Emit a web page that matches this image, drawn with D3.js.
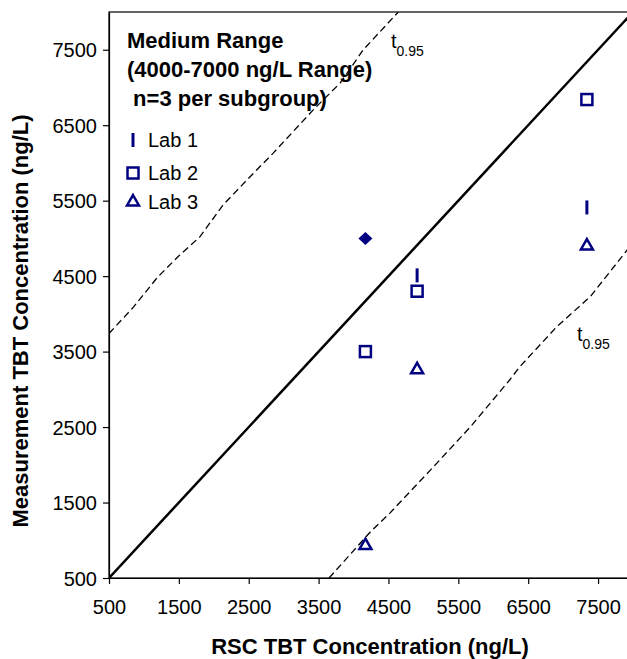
<!DOCTYPE html>
<html>
<head>
<meta charset="utf-8">
<script src="https://cdn.jsdelivr.net/npm/d3@7"></script>
<style>
  html, body { margin: 0; padding: 0; background: #fff; }
  svg { display: block; font-family: "Liberation Sans", Arial, sans-serif; }
</style>
</head>
<body>
<svg id="chart" width="627" height="659"></svg>
<script>
// ---------- data ----------
const xTicks = [500, 1500, 2500, 3500, 4500, 5500, 6500, 7500];
const yTicks = [500, 1500, 2500, 3500, 4500, 5500, 6500, 7500];

const lab1X = [4910, 7340];
const lab1Y = [4510, 5410];
const lab2X = [4170, 4910, 7340];
const lab2Y = [3500, 4300, 6840];
const lab3X = [4170, 4910, 7340];
const lab3Y = [930, 3260, 4900];
const extraX = [4170];          // filled diamond (unlabelled)
const extraY = [5000];

const identityX = [500, 8000];
const identityY = [500, 8000];

const upperX = [500, 850, 1190, 1490, 1800, 2130, 2480, 2850, 3420, 3810, 4140, 4640];
const upperY = [3740, 4090, 4480, 4760, 5020, 5440, 5780, 6130, 6700, 7060, 7500, 8000];
const lowerX = [3650, 4240, 4520, 5100, 5670, 6240, 6380, 6910, 7390, 7920, 8000];
const lowerY = [500, 1110, 1360, 1930, 2500, 3130, 3300, 3830, 4230, 4850, 4930];

const titleLines = ["Medium Range", "(4000-7000 ng/L Range)", " n=3 per subgroup)"];
const legendLabels = ["Lab 1", "Lab 2", "Lab 3"];
const xTitle = "RSC TBT Concentration (ng/L)";
const yTitle = "Measurement TBT Concentration (ng/L)";

// ---------- layout ----------
const navy = "#000080";
const svg = d3.select("#chart");
const x = d3.scaleLinear().domain([500, 8000]).range([109, 633]);
const y = d3.scaleLinear().domain([500, 8000]).range([578, 12]);

svg.append("rect").attr("width", 627).attr("height", 659).attr("fill", "#fff");

svg.append("defs").append("clipPath").attr("id", "plotclip")
  .append("rect")
  .attr("x", x(500)).attr("y", y(8000))
  .attr("width", x(8000) - x(500)).attr("height", y(500) - y(8000));

// plot frame
svg.append("rect")
  .attr("x", x(500)).attr("y", y(8000))
  .attr("width", x(8000) - x(500)).attr("height", y(500) - y(8000))
  .attr("fill", "none").attr("stroke", "#000").attr("stroke-width", 1.2);

// axes
const xAxis = d3.axisBottom(x).tickValues(xTicks).tickSize(6).tickSizeOuter(0).tickFormat(d3.format("d"));
const yAxis = d3.axisLeft(y).tickValues(yTicks).tickSize(6).tickSizeOuter(0).tickFormat(d3.format("d"));

const gx = svg.append("g").attr("transform", `translate(0,${y(500)})`).call(xAxis);
const gy = svg.append("g").attr("transform", `translate(${x(500)},0)`).call(yAxis);
[gx, gy].forEach(g => {
  g.select(".domain").attr("stroke", "#000").attr("stroke-width", 1.2);
  g.selectAll(".tick line").attr("stroke", "#000").attr("stroke-width", 1.2);
  g.selectAll(".tick text").attr("fill", "#000")
    .style("font-family", "'Liberation Sans', Arial, sans-serif")
    .style("font-size", "20px");
});
gx.selectAll(".tick text").attr("dy", null).attr("y", 36);
gy.selectAll(".tick text").attr("x", -12).attr("dy", "0.35em");

// axis titles
svg.append("text")
  .attr("x", 370).attr("y", 654)
  .attr("text-anchor", "middle")
  .style("font-weight", "bold").style("font-size", "22px")
  .text(xTitle);

svg.append("text")
  .attr("transform", `translate(28,321) rotate(-90)`)
  .attr("text-anchor", "middle")
  .style("font-weight", "bold").style("font-size", "22px")
  .text(yTitle);

// lines
const plot = svg.append("g").attr("clip-path", "url(#plotclip)");
const lineGen = d3.line().x(d => x(d[0])).y(d => y(d[1]));

plot.append("path")
  .datum(d3.zip(identityX, identityY))
  .attr("d", lineGen)
  .attr("fill", "none").attr("stroke", "#000").attr("stroke-width", 2.5);

[[upperX, upperY], [lowerX, lowerY]].forEach(([xs, ys]) => {
  plot.append("path")
    .datum(d3.zip(xs, ys))
    .attr("d", lineGen)
    .attr("fill", "none").attr("stroke", "#000").attr("stroke-width", 1.3)
    .attr("stroke-dasharray", "7,4");
});

// markers
function drawBar(g, cx, cy) {
  g.append("line")
    .attr("x1", cx).attr("x2", cx).attr("y1", cy - 7).attr("y2", cy + 7)
    .attr("stroke", navy).attr("stroke-width", 3);
}
function drawSquare(g, cx, cy) {
  g.append("rect")
    .attr("x", cx - 5.5).attr("y", cy - 5.5).attr("width", 11).attr("height", 11)
    .attr("fill", "none").attr("stroke", navy).attr("stroke-width", 2.5);
}
function drawTriangle(g, cx, cy) {
  g.append("path")
    .attr("transform", `translate(${cx},${cy})`)
    .attr("d", d3.symbol().type(d3.symbolTriangle).size(62)())
    .attr("fill", "none").attr("stroke", navy).attr("stroke-width", 2.5)
    .attr("stroke-linejoin", "miter");
}
function drawDiamond(g, cx, cy) {
  g.append("path")
    .attr("d", `M${cx},${cy - 6.5}L${cx + 7},${cy}L${cx},${cy + 6.5}L${cx - 7},${cy}Z`)
    .attr("fill", navy);
}

const marks = svg.append("g");
lab1X.forEach((v, i) => drawBar(marks, x(v), y(lab1Y[i])));
lab2X.forEach((v, i) => drawSquare(marks, x(v), y(lab2Y[i])));
lab3X.forEach((v, i) => drawTriangle(marks, x(v), y(lab3Y[i])));
extraX.forEach((v, i) => drawDiamond(marks, x(v), y(extraY[i])));

// t0.95 labels
function tLabel(px, py) {
  const t = svg.append("text").attr("x", px).attr("y", py).style("font-size", "20px");
  t.append("tspan").text("t");
  t.append("tspan").attr("dy", 8).style("font-size", "14px").text("0.95");
}
tLabel(391, 48);
tLabel(577, 341);

// legend / title block
const title = svg.append("text").style("font-weight", "bold").style("font-size", "22px");
titleLines.forEach((s, i) => {
  title.append("tspan").attr("x", 127).attr("y", 48 + i * 29)
    .attr("xml:space", "preserve").style("white-space", "pre").text(s);
});

const legendY = [140, 173, 202];
const drawers = [drawBar, drawSquare, drawTriangle];
legendLabels.forEach((lab, i) => {
  drawers[i](svg, 133, legendY[i]);
  svg.append("text").attr("x", 148).attr("y", legendY[i] + 7)
    .style("font-size", "20px").text(lab);
});
</script>
</body>
</html>
